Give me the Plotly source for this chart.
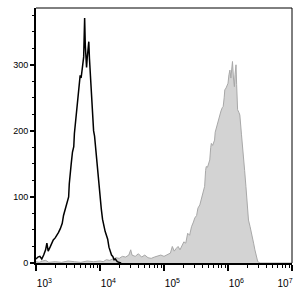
import numpy as np
import plotly.graph_objects as go

# Black (control) histogram: log10 fluorescence, counts
black_log_x = [3.00, 3.03, 3.06, 3.09, 3.12, 3.15, 3.17, 3.19, 3.22, 3.25, 3.27, 3.30, 3.33, 3.35,
               3.38, 3.41, 3.43, 3.46, 3.48, 3.51, 3.52, 3.535, 3.55, 3.57, 3.59, 3.60, 3.615, 3.63,
               3.65, 3.665, 3.68, 3.69, 3.705, 3.72, 3.73, 3.745, 3.75, 3.76, 3.77, 3.78, 3.79, 3.80,
               3.815, 3.825, 3.835, 3.845, 3.86, 3.875, 3.89, 3.90, 3.915, 3.93, 3.945, 3.955, 3.97,
               3.985, 4.00, 4.02, 4.04, 4.06, 4.08, 4.10, 4.12, 4.14, 4.16, 4.18, 4.20, 4.22, 4.24,
               4.27, 4.30, 4.33]
black_counts = [6, 9, 10, 6, 12, 20, 30, 18, 24, 32, 35, 38, 42, 46,
                52, 60, 72, 84, 92, 100, 120, 142, 150, 168, 176, 196, 212, 228,
                250, 258, 278, 284, 280, 298, 300, 312, 340, 371, 330, 300, 296, 310,
                325, 335, 310, 290, 272, 240, 215, 200, 192, 175, 160, 155, 130,
                112, 100, 82, 66, 55, 48, 42, 36, 24, 16, 12, 10, 5, 6,
                2, 1, 0]

# Gray (stained) histogram
gray_log_x = [3.00, 3.05, 3.10, 3.15, 3.20, 3.30, 3.40, 3.50, 3.60, 3.70, 3.80, 3.90, 4.00, 4.05,
              4.10, 4.15, 4.20, 4.25, 4.30, 4.35, 4.40, 4.45, 4.48, 4.50, 4.55, 4.60, 4.65, 4.70,
              4.75, 4.80, 4.85, 4.90, 4.95, 5.00, 5.05, 5.10, 5.13, 5.16, 5.19, 5.22, 5.25, 5.28,
              5.31, 5.34, 5.37, 5.40, 5.43, 5.46, 5.48, 5.51, 5.53, 5.56, 5.58, 5.61, 5.635, 5.65,
              5.66, 5.68, 5.70, 5.715, 5.73, 5.74, 5.76, 5.79, 5.80, 5.82, 5.84, 5.87, 5.89, 5.91,
              5.925, 5.94, 5.95, 5.97, 5.985, 6.00, 6.015, 6.03, 6.045, 6.06, 6.07, 6.085, 6.10,
              6.11, 6.125, 6.135, 6.15, 6.17, 6.185, 6.21, 6.24, 6.26, 6.28, 6.30, 6.32, 6.345,
              6.37, 6.40, 6.42, 6.445, 6.465, 6.50, 7.00]
gray_counts = [2, 1, 3, 4, 1, 2, 1, 3, 2, 1, 3, 2, 3, 2,
               5, 4, 6, 8, 7, 10, 9, 12, 20, 12, 10, 14, 9, 12,
               8, 7, 9, 10, 12, 10, 13, 15, 25, 18, 22, 25, 20, 26,
               32, 30, 45, 42, 55, 62, 68, 72, 83, 88, 95, 104, 116, 140,
               146, 145, 150, 156, 175, 181, 178, 186, 198, 206, 212, 224, 230, 235,
               237, 250, 262, 265, 270, 272, 285, 292, 280, 298, 305, 280, 267,
               285, 300, 270, 232, 228, 224, 195, 167, 140, 116, 85, 65, 55,
               45, 30, 20, 10, 2, 0, 0]

x_major_exp = [3, 4, 5, 6, 7]
y_major = [0, 100, 200, 300]
y_minor = [25, 50, 75, 125, 150, 175, 225, 250, 275, 325, 350, 375]

NB = "\u00a0"
x_major = [10 ** e for e in x_major_exp]
x_text = [(NB * 6 + f"10<sup>{e}</sup>") if e < 7 else (f"10<sup>{e}</sup>" + NB * 5)
          for e in x_major_exp]
x_minor = [m * 10 ** e for e in x_major_exp[:-1] for m in range(2, 10)]

fig = go.Figure()
fig.add_trace(go.Scatter(
    x=np.power(10.0, gray_log_x), y=gray_counts, mode="lines",
    line=dict(color="#a8a8a8", width=1), fill="tozeroy", fillcolor="#d3d3d3",
    showlegend=False, hoverinfo="skip"))
fig.add_trace(go.Scatter(
    x=np.power(10.0, black_log_x), y=black_counts, mode="lines",
    line=dict(color="black", width=1.5), showlegend=False, hoverinfo="skip"))

fig.update_layout(
    width=300, height=293,
    margin=dict(l=36, r=8, t=8, b=30, autoexpand=False),
    paper_bgcolor="white", plot_bgcolor="white",
    font=dict(family="Arial, Liberation Sans", size=10, color="black"),
    shapes=[
        dict(type="line", xref="paper", yref="paper", x0=0, x1=1, y0=1, y1=1,
             line=dict(color="black", width=1)),
        dict(type="line", xref="paper", yref="paper", x0=1, x1=1, y0=0, y1=1,
             line=dict(color="black", width=1)),
    ],
)
fig.update_xaxes(
    type="log", range=[3, 7], showgrid=False, zeroline=False, automargin=False,
    showline=True, linecolor="black", linewidth=2, mirror=False,
    tickmode="array", tickvals=x_major, ticktext=x_text,
    ticks="outside", ticklen=6, tickwidth=2, tickcolor="black",
    ticklabelstandoff=4, ticklabeloverflow="allow",
    minor=dict(tickmode="array", tickvals=x_minor, ticks="outside",
               ticklen=3, tickwidth=1, tickcolor="black", showgrid=False),
    tickfont=dict(size=10),
)
fig.update_yaxes(
    range=[0, 386], showgrid=False, zeroline=False, automargin=False,
    showline=True, linecolor="black", linewidth=2, mirror=False,
    tickmode="array", tickvals=y_major, ticktext=[str(v) for v in y_major],
    ticks="outside", ticklen=4, tickwidth=2, tickcolor="black",
    minor=dict(tickmode="array", tickvals=y_minor, ticks="outside",
               ticklen=2, tickwidth=1, tickcolor="black", showgrid=False),
    tickfont=dict(size=9),
)

fig.write_html("out.html")
